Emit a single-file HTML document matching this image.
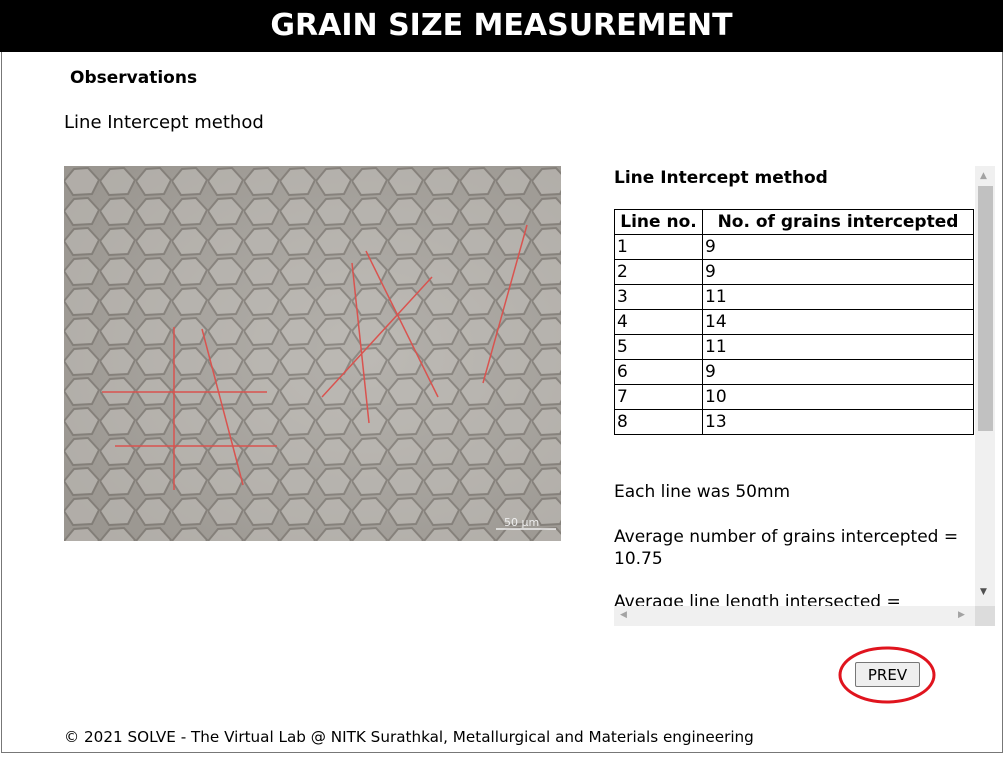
<!DOCTYPE html>
<html><head><meta charset="utf-8"><style>
*{margin:0;padding:0;box-sizing:border-box}
body{width:1007px;height:757px;background:#fff;font-family:"DejaVu Sans","Liberation Sans",sans-serif;color:#000;position:relative;overflow:hidden}
.abs{position:absolute}
#frame{left:1px;top:0;width:1002px;height:753px;border:1px solid #777}
#hdr{left:0;top:0;width:1003px;height:52px;background:#000;color:#fff;font-weight:bold;font-size:30px;text-align:center;line-height:52px;font-family:"DejaVu Sans",sans-serif}
table{border-collapse:collapse;font-size:17px}
td,th{border:1px solid #000;height:25px;padding:0 2px;text-align:left;line-height:22px}
th{text-align:center;font-weight:bold}
</style></head><body>
<div class="abs" id="frame"></div>
<div class="abs" id="hdr">GRAIN SIZE MEASUREMENT</div>
<div class="abs" style="left:70px;top:68px;font-size:17px;font-weight:bold">Observations</div>
<div class="abs" style="left:64px;top:112px;font-size:18px">Line Intercept method</div>
<svg class="abs" style="left:64px;top:166px" width="497" height="375">
<defs>
<radialGradient id="g1" cx="0.6" cy="0.5" r="0.7"><stop offset="0" stop-color="#b4b1ac"/><stop offset="1" stop-color="#9a9690"/></radialGradient>
<pattern id="grains" width="36" height="30" patternUnits="userSpaceOnUse">
<path d="M0 15 L10 3 L24 2 L35 14 L28 28 L9 29 Z" fill="#c3c0bb" stroke="#6f6a64" stroke-width="2"/>
</pattern>
</defs>
<rect width="497" height="375" fill="url(#g1)"/>
<rect width="497" height="375" fill="url(#grains)" opacity="0.55"/>
<g stroke="#d9534f" stroke-width="1.5">
<line x1="38" y1="226" x2="203" y2="226"/>
<line x1="51" y1="280" x2="213" y2="280"/>
<line x1="110" y1="161" x2="110" y2="324"/>
<line x1="138" y1="163" x2="179" y2="319"/>
<line x1="288" y1="97" x2="305" y2="257"/>
<line x1="302" y1="85" x2="374" y2="231"/>
<line x1="258" y1="231" x2="368" y2="111"/>
<line x1="463" y1="59" x2="419" y2="217"/>
</g>
<line x1="432" y1="363" x2="492" y2="363" stroke="#eee" stroke-width="1.5"/>
<text x="440" y="360" fill="#eee" font-size="11" font-family="DejaVu Sans,sans-serif">50 µm</text>
</svg>
<div class="abs" style="left:614px;top:166px;width:381px;height:460px;overflow:hidden">
<div class="abs" style="left:0;top:2px;font-size:17px;font-weight:bold">Line Intercept method</div>
<table class="abs" style="left:0;top:43px;width:360px">
<tr><th style="width:88px">Line no.</th><th>No. of grains intercepted</th></tr>
<tr><td>1</td><td>9</td></tr><tr><td>2</td><td>9</td></tr><tr><td>3</td><td>11</td></tr><tr><td>4</td><td>14</td></tr>
<tr><td>5</td><td>11</td></tr><tr><td>6</td><td>9</td></tr><tr><td>7</td><td>10</td></tr><tr><td>8</td><td>13</td></tr>
</table>
<div class="abs" style="left:0;top:316px;font-size:17px">Each line was 50mm</div>
<div class="abs" style="left:0;top:360px;font-size:17px;line-height:22px;width:360px">Average number of grains intercepted = 10.75</div>
<div class="abs" style="left:0;top:426px;font-size:17px;white-space:nowrap">Average line length intersected =</div>
<div class="abs" style="left:361px;top:0;width:20px;height:440px;background:#f0f0f0">
<div class="abs" style="left:3px;top:20px;width:15px;height:245px;background:#c1c1c1"></div>
<div class="abs" style="left:5px;top:5px;font-size:9px;color:#a3a3a3">▲</div>
<div class="abs" style="left:5px;top:421px;font-size:9px;color:#505050">▼</div>
</div>
<div class="abs" style="left:0;top:440px;width:381px;height:20px;background:#f0f0f0">
<div class="abs" style="left:6px;top:4px;font-size:9px;color:#a3a3a3">◀</div>
<div class="abs" style="left:344px;top:4px;font-size:9px;color:#a3a3a3">▶</div>
<div class="abs" style="left:361px;top:0;width:20px;height:20px;background:#dcdcdc"></div>
</div>
</div>
<button class="abs" style="left:855px;top:662px;width:65px;height:25px;font-size:15px;font-family:'DejaVu Sans',sans-serif;background:#efefef;border:1px solid #777;border-radius:2px">PREV</button>
<svg class="abs" style="left:838px;top:646px" width="100" height="60"><ellipse cx="49" cy="29" rx="47" ry="27" fill="none" stroke="#e0141e" stroke-width="3"/></svg>
<div class="abs" style="left:64px;top:728px;font-size:15.2px">© 2021 SOLVE - The Virtual Lab @ NITK Surathkal, Metallurgical and Materials engineering</div>
</body></html>
